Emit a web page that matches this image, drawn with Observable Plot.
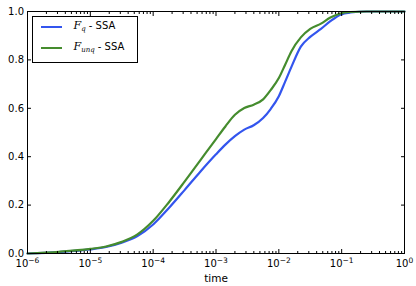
<!DOCTYPE html>
<html><head><meta charset="utf-8">
<script src="https://cdn.jsdelivr.net/npm/d3@7"></script>
<script src="https://cdn.jsdelivr.net/npm/@observablehq/plot@0.6"></script>
<style>
body{margin:0;background:#fff;}
#wrap{position:relative;width:416px;height:286px;}
.legend{position:absolute;left:32px;top:16px;width:104px;height:45px;border:1px solid #000;background:#fff;font-family:"DejaVu Sans",sans-serif;font-size:10px;color:#000;}
.swatch{position:absolute;left:8px;width:21px;height:0;border-top:2px solid;}
.lab{position:absolute;left:40.5px;white-space:nowrap;}
.F{font-family:"DejaVu Serif",serif;font-style:italic;font-size:11px;}
.sub{font-family:"DejaVu Serif",serif;font-style:italic;font-size:7px;position:relative;top:2px;}
</style></head><body><div id="wrap"></div>
<script>
const time = [1e-6, 3.16e-6, 1e-5, 1.78e-5, 3.16e-5, 5.62e-5, 1e-4, 1.78e-4, 3.16e-4, 5.62e-4, 1e-3, 1.41e-3, 2.0e-3, 2.82e-3, 3.98e-3, 5.62e-3, 7.41e-3, 1e-2, 1.26e-2, 1.58e-2, 2.24e-2, 3.16e-2, 4.68e-2, 6.61e-2, 9.55e-2, 0.138, 0.251, 1];
const fq   = [0.000, 0.006, 0.017, 0.027, 0.045, 0.072, 0.120, 0.188, 0.262, 0.338, 0.410, 0.450, 0.485, 0.512, 0.530, 0.560, 0.597, 0.650, 0.710, 0.770, 0.855, 0.895, 0.928, 0.960, 0.987, 0.996, 1.0, 1.0];
const funq = [0.000, 0.007, 0.019, 0.029, 0.048, 0.079, 0.135, 0.212, 0.297, 0.385, 0.473, 0.525, 0.573, 0.601, 0.615, 0.637, 0.675, 0.725, 0.780, 0.835, 0.893, 0.928, 0.950, 0.975, 0.992, 0.998, 1.0, 1.0];
const seriesNames = ["Fq - SSA", "Funq - SSA"];
const seriesColors = ["#3355ee", "#458c2e"];
const majorTicks = [1e-6, 1e-5, 1e-4, 1e-3, 1e-2, 1e-1, 1];
const majorBase = "10";
const majorExp = ["\u22126", "\u22125", "\u22124", "\u22123", "\u22122", "\u22121", "0"];
const yTicks = [0, 0.2, 0.4, 0.6, 0.8, 1.0];
const xLabel = "time";

const minorTicks = majorTicks.slice(0, -1).flatMap(d => [2,3,4,5,6,7,8,9].map(m => m * d));
const rows = [];
time.forEach((t, i) => rows.push({time: t, value: fq[i], series: seriesNames[0]}));
time.forEach((t, i) => rows.push({time: t, value: funq[i], series: seriesNames[1]}));
const blank = () => "";
const chart = Plot.plot({
  width: 416, height: 286,
  marginLeft: 27, marginRight: 12, marginTop: 11, marginBottom: 33,
  style: {fontFamily: "DejaVu Sans, sans-serif", fontSize: "10px", color: "#000", background: "#fff"},
  x: {type: "log", domain: [1e-6, 1], axis: null},
  y: {domain: [0, 1], axis: null},
  color: {domain: seriesNames, range: seriesColors},
  marks: [
    Plot.line(rows, {x: "time", y: "value", stroke: "series", z: "series", curve: "monotone-x", strokeWidth: 2.2}),
    Plot.frame({stroke: "#000", strokeWidth: 1}),
    Plot.axisX(majorTicks, {anchor: "bottom", tickSize: -4, tickPadding: 10.5, tickFormat: () => majorBase, label: null}),
    Plot.axisX(majorTicks, {anchor: "top", tickSize: -4, tickFormat: blank, label: null}),
    Plot.axisX(minorTicks, {anchor: "bottom", tickSize: -2, tickFormat: blank, label: null}),
    Plot.axisX(minorTicks, {anchor: "top", tickSize: -2, tickFormat: blank, label: null}),
    Plot.axisY(yTicks, {anchor: "left", tickSize: -4, tickPadding: 7.5, tickFormat: d => d.toFixed(1), label: null}),
    Plot.axisY(yTicks, {anchor: "right", tickSize: -4, tickFormat: blank, label: null}),
    Plot.text([xLabel], {frameAnchor: "bottom", dy: 28.5, text: d => d, fontSize: 10.5})
  ]
});
// superscript exponents on the x tick labels
const xTexts = Array.from(chart.querySelectorAll("text")).filter(t => t.textContent === majorBase);
xTexts.forEach((t, i) => {
  const ts = document.createElementNS("http://www.w3.org/2000/svg", "tspan");
  ts.setAttribute("dy", "-0.5em");
  ts.setAttribute("font-size", "7.5px");
  ts.textContent = majorExp[i];
  t.appendChild(ts);
});
const wrap = document.getElementById("wrap");
wrap.appendChild(chart);

const legend = document.createElement("div");
legend.className = "legend";
const entries = [
  {base: "F", sub: "q", rest: " - SSA", color: seriesColors[0], y: 9.5},
  {base: "F", sub: "unq", rest: " - SSA", color: seriesColors[1], y: 30.5}
];
entries.forEach(e => {
  const sw = document.createElement("div");
  sw.className = "swatch";
  sw.style.top = (e.y - 1) + "px";
  sw.style.borderTopColor = e.color;
  legend.appendChild(sw);
  const lab = document.createElement("div");
  lab.className = "lab";
  lab.style.top = (e.y - 8) + "px";
  lab.innerHTML = `<span class="F">${e.base}</span><span class="sub">${e.sub}</span><span>${e.rest}</span>`;
  legend.appendChild(lab);
});
wrap.appendChild(legend);
</script>
</body></html>
